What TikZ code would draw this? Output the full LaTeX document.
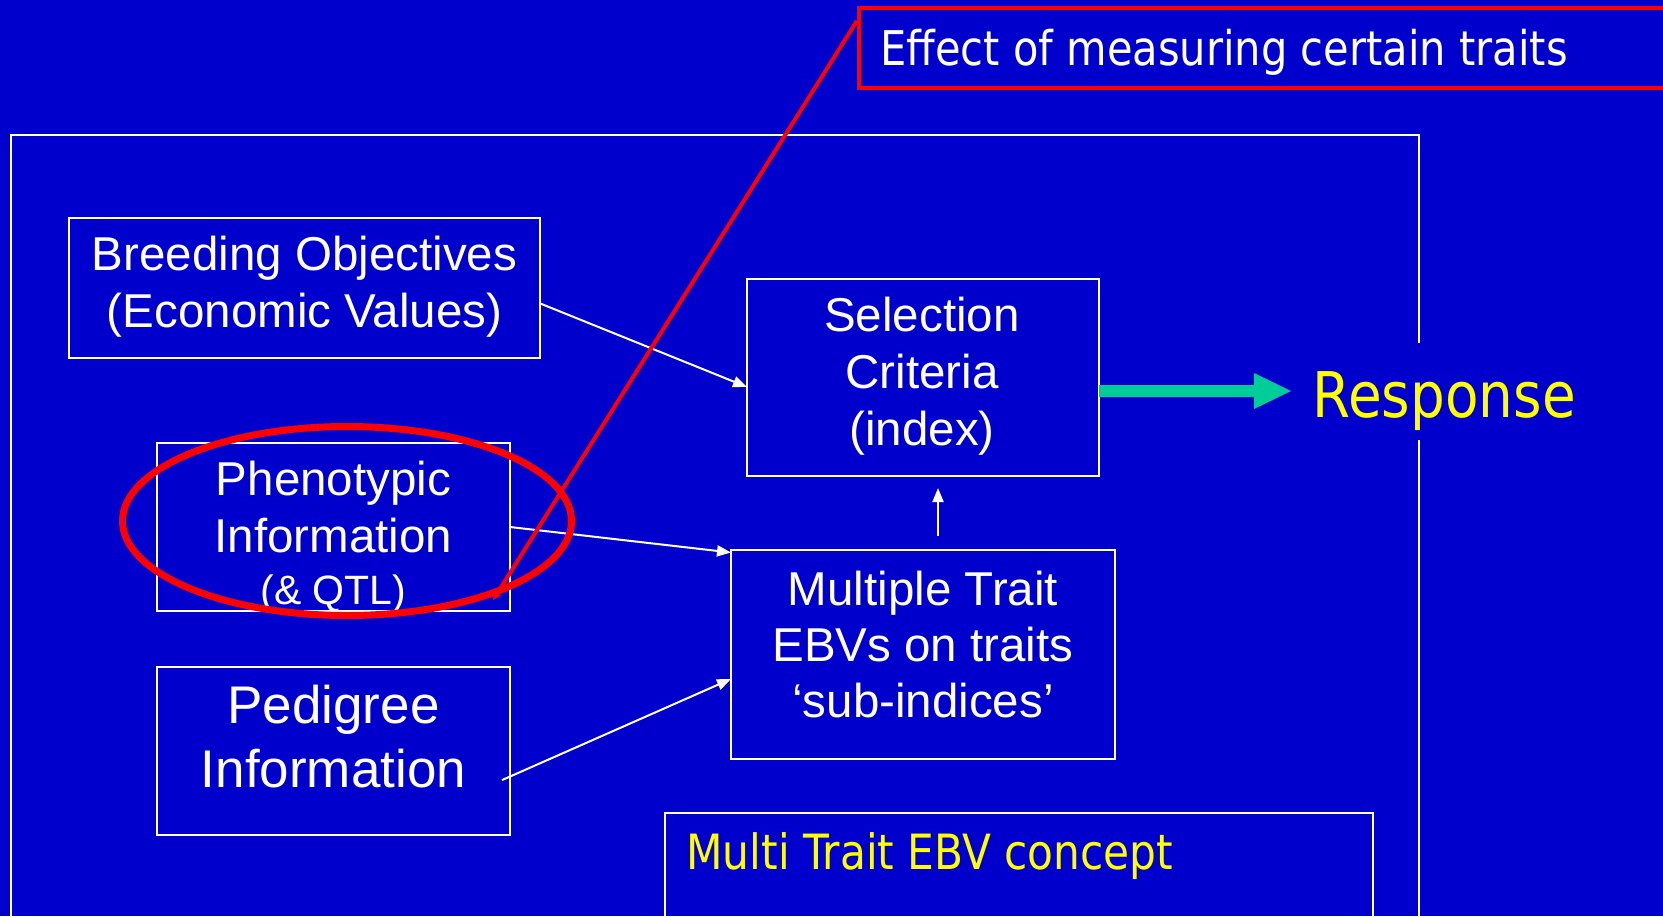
\documentclass[tikz,border=0pt]{standalone}
\usepackage{fontspec}
\setmainfont{Liberation Sans}
\newfontfamily\tahoma[FakeStretch=0.87]{DejaVu Sans}
\usetikzlibrary{arrows.meta,calc}
\definecolor{bg}{RGB}{0,0,204}
\definecolor{respgreen}{RGB}{0,204,153}
\definecolor{callred}{RGB}{255,0,0}
\definecolor{txtyellow}{RGB}{255,255,0}
\begin{document}
\begin{tikzpicture}[x=0.5pt,y=-0.5pt,
  wbox/.style={draw=white, line width=1pt, inner sep=0pt, outer sep=0pt},
  wline/.style={white, line width=1pt, -{Triangle[length=7pt,width=5.5pt]}},
  frame/.style={white, line width=1pt},
  wtxt/.style={text=white, inner sep=0pt, anchor=base, font=\fontsize{23.75}{28.5}\selectfont},
  ytxt/.style={text=txtyellow, inner sep=0pt, anchor=base west},
  redline/.style={callred, line width=2pt}]
\useasboundingbox (0,0) rectangle (1663,916);
\fill[bg] (0,0) rectangle (1663,916);
\clip (0,0) rectangle (1663,916);

% outer frame (gap on the right for the response)
\draw[frame] (1419,343) -- (1419,135) -- (10.5,135) -- (10.5,922);
\draw[frame] (1419,440) -- (1419,922);

% concept frame
\draw[frame] (665,922) -- (665,813) -- (1373,813) -- (1373,922);
\node[ytxt, font=\tahoma\fontsize{24.3}{29}\selectfont] (conc) at (686,869) {Multi Trait EBV concept};

% boxes
\node[wbox, minimum width=235.5pt, minimum height=70pt] (brd) at (304.5,288) {};
\node[wbox, minimum width=176.5pt, minimum height=84pt] (phe) at (333.5,527) {};
\node[wbox, minimum width=176.5pt, minimum height=84pt] (ped) at (333.5,751) {};
\node[wbox, minimum width=176pt, minimum height=98.5pt] (sel) at (923,377.5) {};
\node[wbox, minimum width=192pt, minimum height=104.5pt] (mul) at (923,654.5) {};

% texts
\node[wtxt] (brd1) at (304.5,270) {Breeding Objectives};
\node[wtxt] (brd2) at (304.5,327) {(Economic Values)};
\node[wtxt] (phe1) at (333.5,495) {Phenotypic};
\node[wtxt] (phe2) at (333.5,552) {Information};
\node[wtxt, font=\fontsize{20.5}{24.6}\selectfont] (phe3) at (333.5,604) {(\& QTL)};
\node[wtxt, font=\fontsize{26.5}{32}\selectfont] (ped1) at (333.5,723) {Pedigree};
\node[wtxt, font=\fontsize{26.5}{32}\selectfont] (ped2) at (333.5,787) {Information};
\node[wtxt] (sel1) at (922,331) {Selection};
\node[wtxt] (sel2) at (922,388) {Criteria};
\node[wtxt] (sel3) at (922,445) {(index)};
\node[wtxt] (mul1) at (923,605) {Multiple Trait};
\node[wtxt] (mul2) at (923,661) {EBVs on traits};
\node[wtxt] (mul3) at (923,717) {‘sub-indices’};

% white arrows
\draw[wline] ($(brd.south east)!0.39!(brd.north east)$) -- ($(sel.south west)!0.452!(sel.north west)$);
\draw[wline] (phe.east) -- ($(mul.north west)!0.012!(mul.south west)$);
\draw[wline] ($(ped.south east)!0.327!(ped.north east)+(-8,0)$) -- ($(mul.north west)!0.617!(mul.south west)$);
\draw[wline] ($(mul.north)+(15,-14)$) -- ($(sel.south)+(15,12)$);

% response arrow
\coordinate (gend) at (1291,391);
\draw[respgreen, line width=6pt, -{Triangle[length=18.5pt,width=18pt,line width=0pt]}]
  ($(sel.north east)!0.569!(sel.south east)$) -- (gend);
\node[ytxt, font=\tahoma\fontsize{31.5}{38}\selectfont] (resp) at (1312,417) {Response};

% callout
\node[draw=callred, line width=2pt, inner sep=0pt, minimum width=410.5pt, minimum height=40.25pt] (eff) at (1269.5,47.75) {};
\node[text=white, inner sep=0pt, anchor=base west, font=\tahoma\fontsize{23.9}{29}\selectfont] (efft) at (880,65) {Effect of measuring certain traits};
\draw[redline, line width=3.5pt] (347,521) ellipse [x radius=112.25pt, y radius=47.25pt];
\coordinate (ptip) at (493,600);
\draw[redline, -{Triangle[length=4pt,width=4pt]}] ($(eff.north west)!0.18!(eff.south west)$) -- (ptip);
\end{tikzpicture}
\end{document}
